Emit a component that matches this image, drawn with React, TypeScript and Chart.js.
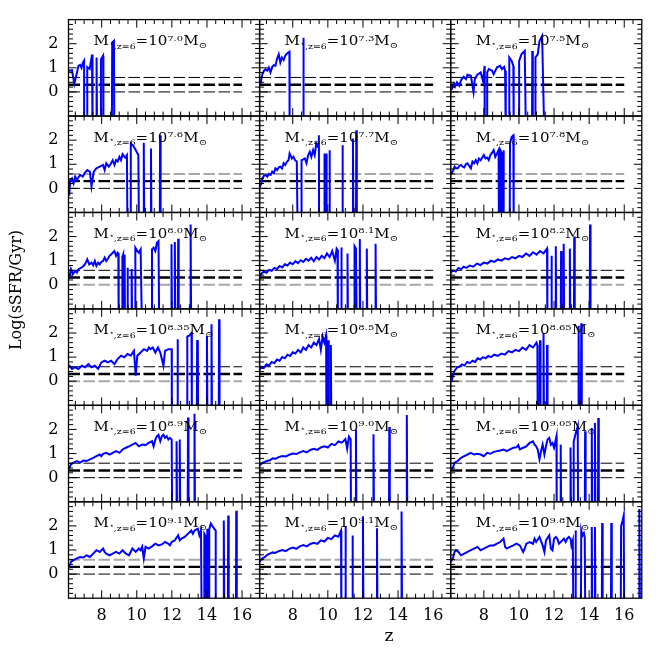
import React, { useEffect, useRef } from "react";
import { Chart, registerables } from "chart.js";
Chart.register(...registerables);

// value used where star formation stops (log sSFR -> -infinity, below the axis)
const D = -2;

const massExp = ["7.0", "7.3", "7.5", "7.6", "7.7", "7.8", "8.0", "8.1", "8.2", "8.35", "8.5", "8.65", "8.9", "9.0", "9.05", "9.1", "9.1", "9.8"];

const xTicks = [8, 10, 12, 14, 16];
const yTicks = [0, 1, 2];
const refLevels = [0.6, 0.3, 0.0];

// [z, log sSFR]
const p1 = [[6.11,0.85],[6.16,0.88],[6.31,0.9],[6.44,0.33],[6.55,0.67],[6.68,1.08],[6.77,1.12],[6.85,1.0],[6.92,1.2],[7.0,1.3],[7.0,D],[7.18,D],[7.18,1.03],[7.32,0.95],[7.45,1.55],[7.48,D],[7.7,D],[7.71,1.43],[7.74,D],[7.94,D],[7.96,1.35],[8.08,1.5],[8.1,D],[8.58,D],[8.6,2.05],[8.7,2.12],[8.72,D]];
const p2 = [[6.11,0.3],[6.18,0.4],[6.27,0.74],[6.36,0.88],[6.45,0.94],[6.55,0.88],[6.64,1.01],[6.73,0.81],[6.83,1.04],[6.92,1.11],[7.01,1.08],[7.1,1.36],[7.2,1.56],[7.29,1.22],[7.38,1.43],[7.48,1.32],[7.57,1.5],[7.66,1.59],[7.81,1.67],[7.82,D],[8.6,D],[8.6,2.25],[8.63,D]];
const p3 = [[6.11,0.1],[6.18,0.12],[6.29,0.33],[6.36,0.22],[6.47,0.4],[6.6,0.26],[6.7,0.49],[6.85,0.63],[6.98,0.53],[7.07,0.71],[7.26,0.67],[7.41,-0.01],[7.48,0.53],[7.63,0.71],[7.82,0.81],[7.96,0.44],[8.04,1.08],[8.05,D],[8.19,D],[8.19,0.81],[8.28,0.95],[8.47,0.88],[8.56,0.74],[8.75,1.02],[8.93,1.08],[9.03,0.95],[9.16,1.04],[9.21,0.88],[9.25,D],[9.45,D],[9.45,1.43],[9.58,1.29],[9.68,1.08],[9.7,D],[10.01,D],[10.01,1.29],[10.14,1.56],[10.33,1.7],[10.4,D],[10.74,D],[10.76,1.7],[10.79,D],[10.94,D],[10.94,1.43],[11.07,1.56],[11.17,2.11],[11.32,2.32],[11.45,D]];
const p4 = [[6.11,-0.3],[6.16,-0.26],[6.21,0.35],[6.31,0.42],[6.4,0.21],[6.49,0.49],[6.59,0.35],[6.68,0.46],[6.77,0.56],[6.92,0.49],[7.05,0.65],[7.18,0.76],[7.33,0.69],[7.42,0.08],[7.55,0.69],[7.7,0.83],[7.89,0.9],[8.08,0.97],[8.17,0.76],[8.26,1.04],[8.41,0.9],[8.54,1.04],[8.63,1.17],[8.73,0.97],[8.82,1.17],[8.91,1.11],[9.01,1.31],[9.1,1.17],[9.19,1.42],[9.34,1.28],[9.44,1.38],[9.47,D],[9.66,D],[9.66,1.86],[9.81,1.75],[9.94,1.59],[10.09,1.38],[10.13,D],[10.38,D],[10.4,1.89],[10.43,D],[10.79,D],[10.81,1.65],[10.84,D],[11.31,D],[11.33,2.2],[11.36,D]];
const p5 = [[6.11,0.05],[6.18,0.15],[6.27,0.42],[6.36,0.52],[6.46,0.56],[6.55,0.49],[6.64,0.6],[6.74,0.56],[6.83,0.69],[6.92,0.63],[7.01,0.83],[7.11,0.76],[7.2,0.87],[7.29,0.9],[7.39,0.83],[7.48,1.04],[7.57,0.97],[7.67,1.11],[7.76,1.17],[7.82,1.45],[7.95,1.24],[8.04,1.31],[8.13,1.17],[8.23,1.11],[8.28,D],[8.5,D],[8.5,1.17],[8.6,1.2],[8.69,1.24],[8.78,1.04],[8.88,1.38],[8.97,1.52],[9.06,1.31],[9.16,1.59],[9.25,1.38],[9.34,1.86],[9.44,1.72],[9.49,2.2],[9.5,D],[9.8,D],[9.81,1.45],[9.84,D],[9.88,D],[9.9,1.45],[9.93,D],[10.07,D],[10.09,1.58],[10.12,D],[10.81,D],[10.83,1.79],[10.86,D],[11.41,D],[11.43,2.07],[11.46,D],[11.6,D],[11.62,2.41],[11.65,D]];
const p6 = [[6.11,0.6],[6.23,0.7],[6.33,0.9],[6.42,0.83],[6.51,0.83],[6.6,0.93],[6.7,0.97],[6.79,0.9],[6.88,0.87],[6.98,1.01],[7.07,1.04],[7.16,0.93],[7.26,0.83],[7.35,1.11],[7.44,1.04],[7.54,1.17],[7.63,1.04],[7.72,1.24],[7.82,1.17],[7.91,1.28],[8.0,1.38],[8.09,1.24],[8.19,1.28],[8.28,1.17],[8.37,1.38],[8.47,1.48],[8.56,1.59],[8.65,1.31],[8.75,1.45],[8.84,1.59],[8.86,D],[8.93,D],[8.93,1.6],[9.0,1.5],[9.02,D],[9.1,D],[9.12,1.58],[9.14,D],[9.47,D],[9.49,1.86],[9.58,2.13],[9.68,2.2],[9.7,D]];
const p7 = [[6.11,0.25],[6.16,0.3],[6.25,0.65],[6.36,0.44],[6.49,0.58],[6.59,0.51],[6.68,0.65],[6.87,0.72],[6.96,0.78],[7.05,0.85],[7.18,1.06],[7.29,0.85],[7.42,0.92],[7.52,0.81],[7.61,0.99],[7.7,0.78],[7.8,0.92],[7.89,0.85],[7.98,0.95],[8.08,0.99],[8.17,1.13],[8.26,0.99],[8.36,1.09],[8.45,1.2],[8.54,1.26],[8.63,1.33],[8.73,1.4],[8.82,1.2],[8.91,1.33],[8.95,1.3],[8.97,D],[9.16,D],[9.16,1.2],[9.2,1.15],[9.23,1.26],[9.25,D],[9.3,D],[9.31,1.25],[9.33,D],[9.45,D],[9.47,0.71],[9.5,D],[9.69,D],[9.71,0.65],[9.74,D],[9.9,D],[9.9,1.47],[9.94,1.54],[10.03,1.4],[10.12,1.33],[10.22,1.47],[10.3,D],[10.87,D],[10.87,1.47],[10.96,1.54],[11.06,1.4],[11.15,1.74],[11.24,1.81],[11.28,D],[11.96,D],[11.98,1.68],[12.01,D],[12.15,D],[12.17,1.77],[12.2,D],[12.34,D],[12.36,1.91],[12.39,D],[13.05,D],[13.07,2.5],[13.1,D]];
const p8 = [[6.11,0.35],[6.2,0.45],[6.35,0.55],[6.5,0.5],[6.65,0.62],[6.8,0.58],[6.95,0.7],[7.1,0.65],[7.25,0.78],[7.4,0.72],[7.55,0.85],[7.7,0.8],[7.85,0.92],[8.0,0.85],[8.15,0.98],[8.3,0.9],[8.45,1.02],[8.6,0.95],[8.75,1.08],[8.9,1.0],[9.05,1.12],[9.2,0.98],[9.35,1.15],[9.5,1.05],[9.65,1.2],[9.8,1.1],[9.95,1.3],[10.1,1.15],[10.25,1.4],[10.4,1.0],[10.5,1.5],[10.55,1.45],[10.57,D],[10.75,D],[10.76,1.55],[10.8,D],[11.1,D],[11.12,1.3],[11.15,D],[11.5,D],[11.52,1.6],[11.6,1.5],[11.65,D],[11.8,D],[11.82,1.9],[11.85,D],[12.2,D],[12.22,1.5],[12.25,D],[12.7,D],[12.72,1.7],[12.75,D]];
const p9 = [[6.11,0.5],[6.25,0.6],[6.4,0.55],[6.55,0.7],[6.7,0.65],[6.85,0.75],[7.0,0.7],[7.2,0.8],[7.4,0.75],[7.6,0.88],[7.8,0.82],[8.0,0.92],[8.2,0.88],[8.4,1.0],[8.6,0.95],[8.8,1.05],[9.0,1.0],[9.2,1.1],[9.4,1.05],[9.6,1.15],[9.8,1.1],[10.0,1.2],[10.2,1.15],[10.4,1.3],[10.6,1.2],[10.8,1.35],[11.0,1.25],[11.2,1.4],[11.4,1.3],[11.6,1.5],[11.62,D],[11.83,D],[11.85,1.2],[11.88,D],[12.08,D],[12.1,1.6],[12.13,D],[12.38,D],[12.4,1.4],[12.43,D],[12.53,D],[12.55,1.7],[12.58,D],[12.88,D],[12.9,1.5],[12.93,D],[13.13,D],[13.15,2.0],[13.18,D],[14.03,D],[14.05,2.5],[14.08,D]];
const p10 = [[6.11,0.6],[6.16,0.64],[6.31,0.51],[6.49,0.58],[6.68,0.51],[6.87,0.64],[7.05,0.58],[7.24,0.71],[7.42,0.58],[7.61,0.64],[7.8,0.51],[7.98,0.78],[8.17,0.85],[8.36,0.78],[8.54,0.85],[8.73,0.71],[8.91,0.92],[9.1,1.06],[9.29,0.99],[9.47,1.13],[9.66,1.06],[9.84,1.26],[9.94,0.23],[10.03,1.06],[10.22,1.19],[10.41,1.33],[10.59,1.26],[10.69,1.4],[10.78,1.33],[10.91,1.4],[11.06,1.19],[11.21,1.4],[11.34,1.19],[11.43,0.92],[11.52,0.64],[11.61,1.26],[11.8,1.33],[11.99,1.33],[12.0,D],[12.3,D],[12.32,1.74],[12.35,D],[12.88,D],[12.88,1.85],[13.0,1.9],[13.12,2.0],[13.14,D],[13.42,D],[13.44,1.67],[13.48,1.7],[13.5,D],[13.98,D],[14.0,1.88],[14.03,D],[14.24,D],[14.26,2.36],[14.29,D],[14.67,D],[14.69,2.57],[14.72,D]];
const p11 = [[6.11,0.45],[6.2,0.6],[6.35,0.55],[6.5,0.7],[6.65,0.65],[6.8,0.8],[6.95,0.75],[7.1,0.9],[7.25,0.85],[7.4,1.0],[7.55,0.95],[7.7,1.1],[7.85,1.05],[8.0,1.2],[8.15,1.15],[8.3,1.3],[8.45,1.2],[8.6,1.4],[8.75,1.3],[8.9,1.5],[9.05,1.4],[9.2,1.6],[9.35,1.5],[9.5,1.75],[9.6,1.3],[9.7,1.85],[9.8,1.6],[9.9,1.9],[9.92,D],[10.0,D],[10.02,1.7],[10.05,D],[10.15,D],[10.17,1.5],[10.2,D]];
const p12 = [[6.11,0.3],[6.2,0.1],[6.3,0.4],[6.45,0.55],[6.6,0.6],[6.75,0.7],[6.9,0.65],[7.05,0.8],[7.2,0.75],[7.35,0.85],[7.5,0.8],[7.65,0.95],[7.8,0.9],[7.95,1.0],[8.1,0.95],[8.25,1.05],[8.4,1.0],[8.6,1.1],[8.8,1.05],[9.0,1.15],[9.2,1.1],[9.4,1.25],[9.6,1.2],[9.8,1.3],[10.0,1.25],[10.2,1.4],[10.4,1.3],[10.6,1.5],[10.8,1.4],[11.0,1.6],[11.05,1.5],[11.07,D],[11.18,D],[11.2,1.7],[11.23,D],[11.38,D],[11.4,2.0],[11.43,D],[11.58,D],[11.6,1.5],[11.63,D],[13.38,D],[13.4,2.3],[13.43,D],[13.53,D],[13.55,2.4],[13.58,D]];
const p13 = [[6.11,0.38],[6.16,0.41],[6.25,0.55],[6.4,0.62],[6.59,0.69],[6.77,0.62],[6.96,0.71],[7.14,0.69],[7.33,0.76],[7.52,0.82],[7.7,0.89],[7.89,0.96],[7.98,0.89],[8.08,0.99],[8.26,1.03],[8.45,0.96],[8.63,1.03],[8.82,1.1],[9.01,1.03],[9.19,1.17],[9.38,1.24],[9.56,1.3],[9.75,1.37],[9.94,1.44],[10.12,1.3],[10.31,1.37],[10.5,1.35],[10.68,1.44],[10.87,1.51],[10.96,1.3],[11.06,1.58],[11.15,1.72],[11.24,1.78],[11.34,1.51],[11.43,1.72],[11.52,1.78],[11.61,1.65],[11.71,1.72],[11.8,1.58],[11.89,1.65],[11.99,1.58],[12.02,D],[12.25,D],[12.27,1.51],[12.3,D],[12.43,D],[12.45,1.58],[12.48,D],[12.9,D],[12.92,2.5],[12.95,D],[13.27,D],[13.29,2.65],[13.32,D]];
const p14 = [[6.11,0.5],[6.25,0.6],[6.4,0.65],[6.55,0.7],[6.7,0.72],[6.85,0.8],[7.0,0.78],[7.2,0.85],[7.4,0.9],[7.6,0.88],[7.8,0.95],[8.0,1.0],[8.2,0.98],[8.4,1.05],[8.6,1.1],[8.8,1.05],[9.0,1.15],[9.2,1.2],[9.4,1.15],[9.6,1.25],[9.8,1.3],[10.0,1.25],[10.2,1.4],[10.4,1.35],[10.6,1.5],[10.8,1.45],[11.0,1.6],[11.1,1.2],[11.2,1.7],[11.3,1.6],[11.32,D],[11.58,D],[11.6,2.0],[11.63,D],[12.58,D],[12.6,1.8],[12.63,D],[13.48,D],[13.5,2.1],[13.53,D],[14.48,D],[14.5,2.6],[14.53,D]];
const p15 = [[6.11,0.3],[6.23,0.41],[6.33,0.62],[6.51,0.69],[6.7,0.82],[6.88,0.89],[7.07,0.96],[7.26,1.03],[7.44,0.96],[7.63,0.99],[7.82,0.96],[8.0,0.89],[8.19,1.03],[8.37,0.99],[8.56,1.07],[8.75,1.1],[8.93,1.13],[9.12,1.17],[9.3,1.1],[9.49,1.17],[9.68,1.24],[9.86,1.26],[9.96,1.35],[10.05,1.17],[10.24,1.24],[10.42,1.3],[10.61,1.44],[10.8,1.51],[10.89,1.37],[10.98,1.3],[11.07,1.17],[11.17,0.76],[11.26,1.1],[11.35,1.37],[11.45,0.96],[11.54,1.3],[11.63,1.58],[11.73,1.65],[11.82,1.37],[11.91,1.44],[12.0,1.24],[12.14,1.72],[12.15,D],[12.36,D],[12.38,1.37],[12.41,D],[12.92,D],[12.94,1.25],[12.97,D],[13.1,D],[13.12,1.5],[13.22,1.8],[13.3,2.0],[13.35,2.13],[13.37,D],[13.75,D],[13.77,1.92],[13.8,D],[14.13,D],[14.15,2.06],[14.18,D],[14.31,D],[14.33,2.27],[14.36,D],[14.5,D],[14.52,2.47],[14.55,D]];
const p16 = [[6.11,0.25],[6.16,0.3],[6.25,0.51],[6.4,0.58],[6.59,0.65],[6.77,0.71],[6.96,0.69],[7.14,0.78],[7.33,0.71],[7.52,0.85],[7.7,0.99],[7.89,0.92],[8.08,1.06],[8.17,0.92],[8.26,0.85],[8.45,0.78],[8.63,0.85],[8.82,0.92],[9.01,0.85],[9.19,0.99],[9.38,0.85],[9.56,0.78],[9.75,1.06],[9.94,0.92],[10.12,1.06],[10.22,0.99],[10.31,1.13],[10.4,0.65],[10.5,1.13],[10.68,1.06],[10.87,1.15],[11.06,1.26],[11.24,1.19],[11.43,1.23],[11.61,1.33],[11.8,1.26],[11.89,1.19],[11.99,1.33],[12.17,1.4],[12.36,1.61],[12.45,1.4],[12.55,1.47],[12.73,1.54],[12.92,1.67],[13.1,1.81],[13.2,1.67],[13.29,1.81],[13.48,1.88],[13.57,1.61],[13.66,1.81],[13.7,D],[13.85,D],[13.85,1.67],[13.9,1.6],[13.92,D],[14.0,D],[14.02,1.88],[14.04,D],[14.13,D],[14.13,1.85],[14.22,2.1],[14.35,1.95],[14.5,1.8],[14.5,D],[14.94,D],[14.96,2.22],[14.99,D],[15.19,D],[15.21,2.43],[15.24,D],[15.65,D],[15.67,2.63],[15.7,D]];
const p17 = [[6.11,0.5],[6.25,0.65],[6.4,0.7],[6.55,0.8],[6.7,0.85],[6.85,0.9],[7.0,0.88],[7.2,0.95],[7.4,1.0],[7.6,0.95],[7.8,1.05],[8.0,1.1],[8.2,1.05],[8.4,1.15],[8.6,1.2],[8.8,1.15],[9.0,1.25],[9.2,1.3],[9.4,1.25],[9.6,1.4],[9.8,1.35],[10.0,1.5],[10.2,1.45],[10.4,1.6],[10.6,1.55],[10.75,1.8],[10.77,D],[10.98,D],[11.0,2.0],[11.03,D],[11.38,D],[11.4,1.6],[11.43,D],[11.98,D],[12.0,2.4],[12.03,D],[12.78,D],[12.8,1.9],[12.83,D],[14.18,D],[14.2,2.6],[14.23,D]];
const p18 = [[6.11,0.5],[6.23,0.64],[6.33,0.92],[6.42,0.99],[6.55,0.92],[6.7,0.78],[6.88,0.85],[7.07,0.92],[7.26,0.99],[7.44,1.06],[7.63,1.13],[7.82,0.99],[8.0,1.06],[8.19,1.13],[8.37,1.19],[8.56,1.19],[8.75,1.26],[8.93,1.33],[9.12,1.47],[9.21,1.13],[9.3,1.06],[9.49,1.13],[9.68,1.19],[9.86,1.26],[10.05,1.19],[10.24,0.92],[10.33,1.06],[10.42,1.26],[10.61,1.33],[10.8,1.26],[10.89,1.47],[10.98,1.33],[11.17,1.54],[11.35,1.19],[11.45,0.92],[11.54,1.4],[11.73,1.61],[11.82,1.06],[11.91,0.99],[12.0,1.47],[12.1,1.54],[12.19,1.47],[12.28,1.26],[12.47,1.4],[12.56,1.47],[12.66,1.33],[12.75,1.47],[12.84,1.54],[12.94,1.47],[12.99,1.19],[13.07,1.4],[13.1,D],[13.2,D],[13.22,1.81],[13.25,D],[13.53,D],[13.55,1.81],[13.62,1.6],[13.7,1.7],[13.75,1.5],[13.78,D],[14.13,D],[14.15,1.95],[14.18,D],[14.31,D],[14.33,1.95],[14.36,D],[14.72,D],[14.74,2.12],[14.77,D],[15.24,D],[15.26,2.12],[15.29,D],[15.8,D],[15.82,2.0],[15.9,2.2],[15.97,2.43],[16.0,D],[16.85,D],[16.86,2.7],[16.9,D]];

const panels = [p1, p2, p3, p4, p5, p6, p7, p8, p9, p10, p11, p12, p13, p14, p15, p16, p17, p18];

// style of the three reference lines (0.6, 0.3, 0.0) per row
const BLK = "#000000";
const GRY = "#a8a8a8";
const refStyleByRow = [
  [[BLK, 1], [BLK, 2.4], [BLK, 1]],
  [[GRY, 2], [BLK, 2.4], [BLK, 1]],
  [[BLK, 1], [BLK, 2.4], [GRY, 2]],
  [[BLK, 1], [BLK, 2.4], [GRY, 2]],
  [[BLK, 1], [BLK, 2.4], [BLK, 1]],
  [[GRY, 2], [BLK, 2.4], [BLK, 1]],
];

const Z_MIN = 6.11;
const Z_MAX = 17.0;
const REF_END = 16;
const SERIF = '"DejaVu Serif", serif';

function drawMassLabel(ctx: CanvasRenderingContext2D, x: number, y: number, exp: string) {
  const parts = [
    { t: "M", size: 12, dy: 0 },
    { t: "\u22C6", size: 7, dy: 0.5 },
    { t: ",z=6", size: 7.5, dy: 3.5 },
    { t: "=10", size: 12, dy: 0 },
    { t: exp, size: 8, dy: -4.5 },
    { t: "M", size: 12, dy: 0 },
    { t: "\u2299", size: 8, dy: 3 },
  ];
  ctx.save();
  ctx.translate(x, y);
  ctx.scale(1.25, 1);
  let cx = 0;
  ctx.textAlign = "left";
  ctx.textBaseline = "alphabetic";
  ctx.fillStyle = "#000";
  for (const p of parts) {
    ctx.font = `${p.size}px ${SERIF}`;
    ctx.fillText(p.t, cx, p.dy);
    cx += ctx.measureText(p.t).width;
  }
  ctx.restore();
}

const panelClip = {
  id: "panelClip",
  beforeDatasetDraw(chart: any, args: any) {
    const xs = args.meta.xScale;
    const ys = args.meta.yScale;
    const ctx = chart.ctx;
    ctx.save();
    ctx.beginPath();
    ctx.rect(xs.left, ys.top, xs.right - xs.left, ys.bottom - ys.top);
    ctx.clip();
  },
  afterDatasetDraw(chart: any) {
    chart.ctx.restore();
  },
};

const framePlugin = {
  id: "frames",
  afterDatasetsDraw(chart: any) {
    const ctx = chart.ctx;
    ctx.save();
    ctx.strokeStyle = "#000";
    for (let r = 1; r <= 6; r++) {
      for (let c = 1; c <= 3; c++) {
        const xs = chart.scales["x" + c];
        const ys = chart.scales["y" + r];
        const L = xs.left, R = xs.right, T = ys.top, B = ys.bottom;
        ctx.lineWidth = 1;
        // x ticks (top and bottom, inward)
        for (let k = 13; k <= 33; k++) {
          const z = k / 2;
          const px = xs.getPixelForValue(z);
          if (px <= L + 0.5 || px >= R - 0.5) continue;
          const len = z % 2 === 0 ? 8 : 4.5;
          ctx.beginPath();
          ctx.moveTo(px, B);
          ctx.lineTo(px, B - len);
          ctx.moveTo(px, T);
          ctx.lineTo(px, T + len);
          ctx.stroke();
        }
        // y ticks (left and right, inward)
        for (let k = -4; k <= 14; k++) {
          const v = k / 5;
          const py = ys.getPixelForValue(v);
          if (py <= T + 0.5 || py >= B - 0.5) continue;
          const len = k % 5 === 0 ? 8 : 4.5;
          ctx.beginPath();
          ctx.moveTo(L, py);
          ctx.lineTo(L + len, py);
          ctx.moveTo(R, py);
          ctx.lineTo(R - len, py);
          ctx.stroke();
        }
        ctx.lineWidth = 1.3;
        ctx.strokeRect(L, T, R - L, B - T);
        drawMassLabel(ctx, L + 25, T + 25.5, massExp[(r - 1) * 3 + (c - 1)]);
      }
    }
    // axis titles
    ctx.fillStyle = "#000";
    ctx.font = `16px ${SERIF}`;
    ctx.textAlign = "center";
    ctx.textBaseline = "middle";
    ctx.save();
    ctx.translate(17, 290);
    ctx.rotate(-Math.PI / 2);
    ctx.fillText("Log(sSFR/Gyr)", 0, 0);
    ctx.restore();
    ctx.font = `17px ${SERIF}`;
    ctx.fillText("z", 389, 637);
    ctx.restore();
  },
};

function xAxis() {
  return {
    type: "linear",
    position: "bottom",
    stack: "cols",
    stackWeight: 1,
    min: Z_MIN,
    max: Z_MAX,
    grid: { display: false, drawTicks: false },
    border: { display: false },
    ticks: { font: { family: SERIF, size: 16 }, color: "#000", padding: 8, maxRotation: 0, autoSkip: false },
    afterBuildTicks: (s: any) => {
      s.ticks = xTicks.map((v) => ({ value: v }));
    },
    afterFit: (s: any) => {
      s.height = 40;
    },
  };
}

function yAxis() {
  return {
    type: "linear",
    position: "left",
    stack: "rows",
    stackWeight: 1,
    min: -1,
    max: 3,
    grid: { display: false, drawTicks: false },
    border: { display: false },
    ticks: { font: { family: SERIF, size: 16 }, color: "#000", padding: 10, autoSkip: false },
    afterBuildTicks: (s: any) => {
      s.ticks = yTicks.map((v) => ({ value: v }));
    },
    afterFit: (s: any) => {
      s.width = 60.5;
    },
  };
}

export default function App() {
  const ref = useRef<HTMLCanvasElement | null>(null);
  useEffect(() => {
    if (!ref.current) return;
    const datasets: any[] = [];
    panels.forEach((pts, i) => {
      const row = Math.floor(i / 3) + 1;
      const col = (i % 3) + 1;
      datasets.push({
        data: pts.map(([x, y]) => ({ x, y })),
        xAxisID: "x" + col,
        yAxisID: "y" + row,
        borderColor: "#0000ff",
        borderWidth: 2,
        pointRadius: 0,
        tension: 0,
        fill: false,
        order: 0,
      });
    });
    panels.forEach((_, i) => {
      const row = Math.floor(i / 3) + 1;
      const col = (i % 3) + 1;
      refLevels.forEach((lvl, k) => {
        const [color, width] = refStyleByRow[row - 1][k] as [string, number];
        datasets.push({
          data: [
            { x: Z_MIN, y: lvl },
            { x: REF_END, y: lvl },
          ],
          xAxisID: "x" + col,
          yAxisID: "y" + row,
          borderColor: color,
          borderWidth: width,
          borderDash: [11.5, 3.5],
          pointRadius: 0,
          fill: false,
          order: 1,
        });
      });
    });
    const chart = new Chart(ref.current, {
      type: "line",
      data: { datasets },
      options: {
        animation: false,
        responsive: false,
        devicePixelRatio: 1,
        parsing: false,
        normalized: true,
        layout: { padding: { left: 8, top: 15, right: 8, bottom: 14.8 } },
        plugins: { legend: { display: false }, tooltip: { enabled: false } },
        events: [],
        scales: {
          x1: xAxis(),
          x2: xAxis(),
          x3: xAxis(),
          y6: yAxis(),
          y5: yAxis(),
          y4: yAxis(),
          y3: yAxis(),
          y2: yAxis(),
          y1: yAxis(),
        } as any,
      },
      plugins: [panelClip, framePlugin],
    } as any);
    return () => chart.destroy();
  }, []);
  return (
    <div style={{ position: "absolute", left: 0, top: 0, width: 660, height: 653, background: "#fff" }}>
      <canvas ref={ref} width={660} height={653} style={{ display: "block" }} />
    </div>
  );
}
